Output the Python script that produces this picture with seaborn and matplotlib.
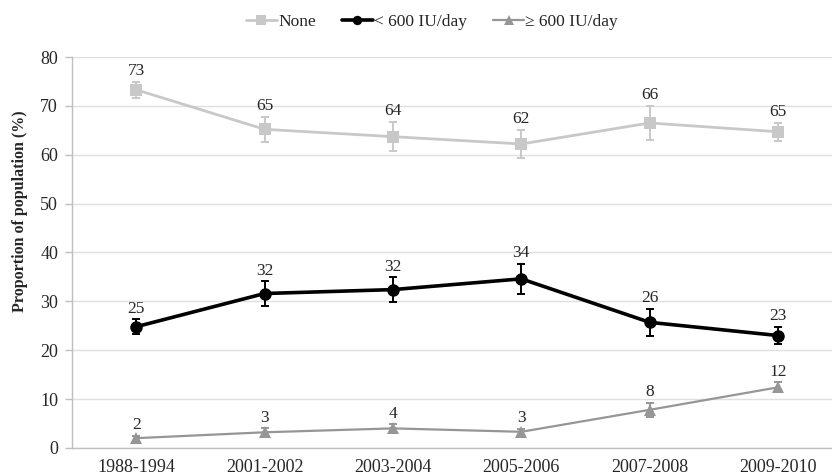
import numpy as np
import pandas as pd
import matplotlib
matplotlib.use("Agg")
import matplotlib.pyplot as plt
import seaborn as sns

periods = ["1988-1994", "2001-2002", "2003-2004", "2005-2006", "2007-2008", "2009-2010"]
groups = ["None", "< 600 IU/day", "\u2265 600 IU/day"]

none_vals = [73.3, 65.2, 63.7, 62.2, 66.5, 64.7]
none_err = [1.6, 2.5, 3.0, 2.9, 3.5, 1.8]
low_vals = [24.8, 31.6, 32.4, 34.6, 25.7, 23.0]
low_err = [1.5, 2.5, 2.5, 3.0, 2.7, 1.7]
high_vals = [2.0, 3.2, 4.0, 3.3, 7.8, 12.4]
high_err = [0.5, 0.8, 0.8, 0.6, 1.4, 1.0]
labels_none = [73, 65, 64, 62, 66, 65]
labels_low = [25, 32, 32, 34, 26, 23]
labels_high = [2, 3, 4, 3, 8, 12]

rows = []
for g, vals in zip(groups, [none_vals, low_vals, high_vals]):
    for i, v in enumerate(vals):
        rows.append({"period": i, "group": g, "value": v})
df = pd.DataFrame(rows)

sns.set_style("white")
plt.rcParams["font.family"] = ["Liberation Serif", "DejaVu Serif"]

colors = {"None": "#c8c8c8", "< 600 IU/day": "#000000", "\u2265 600 IU/day": "#969696"}
markers = {"None": "s", "< 600 IU/day": "o", "\u2265 600 IU/day": "^"}
widths = {"None": 2.0, "< 600 IU/day": 2.6, "\u2265 600 IU/day": 1.6}

fig = plt.figure(figsize=(8.32, 4.75), dpi=100)
ax = fig.add_axes([0.0865, 0.057, 0.9135, 0.823])

for g, vals, errs, labs in zip(groups, [none_vals, low_vals, high_vals],
                               [none_err, low_err, high_err],
                               [labels_none, labels_low, labels_high]):
    sub = df[df["group"] == g]
    sns.lineplot(data=sub, x="period", y="value", color=colors[g], marker=markers[g],
                 markersize=9, markeredgewidth=0, linewidth=widths[g], label=g, ax=ax,
                 zorder=3)
    ax.errorbar(sub["period"], sub["value"], yerr=errs, fmt="none", ecolor=colors[g],
                elinewidth=1.4, capsize=3, capthick=1.4, zorder=3)
    for x, v, e, lab in zip(sub["period"], sub["value"], errs, labs):
        ax.annotate(str(lab), (x, v + e), xytext=(0, 2), textcoords="offset points",
                    ha="center", va="bottom", fontsize=12.5)

ax.set_xlim(-0.5, 5.42)
ax.set_ylim(0, 80)
ax.set_yticks(range(0, 81, 10))
ax.set_xticks(range(len(periods)))
ax.set_xticklabels(periods)
ax.set_xticks(np.arange(-0.5, 5.5, 1), minor=True)
ax.tick_params(axis="x", which="major", length=0, labelsize=13, pad=8)
ax.tick_params(axis="x", which="minor", length=5, color="#bfbfbf", width=1, direction="out")
ax.tick_params(axis="y", length=5, color="#bfbfbf", width=1, labelsize=13, direction="out",
               left=True, pad=5)
ax.set_xlabel("")
ax.set_ylabel("Proportion of population (%)", fontsize=11.5, fontweight="bold")
ax.yaxis.set_label_coords(-0.058, 0.606)
ax.yaxis.grid(True, color="#e0e0e0", linewidth=1)
ax.set_axisbelow(True)
for s in ["top", "right"]:
    ax.spines[s].set_visible(False)
for s in ["left", "bottom"]:
    ax.spines[s].set_color("#bfbfbf")
    ax.spines[s].set_linewidth(1)

ax.get_legend().remove()
handles, lbls = ax.get_legend_handles_labels()
leg = fig.legend(handles[:3], lbls[:3], loc="center", bbox_to_anchor=(0.519, 0.954), ncol=3,
                 frameon=False, fontsize=12.5, handlelength=1.8, handletextpad=0.05,
                 columnspacing=1.5, markerscale=0.75)

fig.savefig("out.png", dpi=100)
